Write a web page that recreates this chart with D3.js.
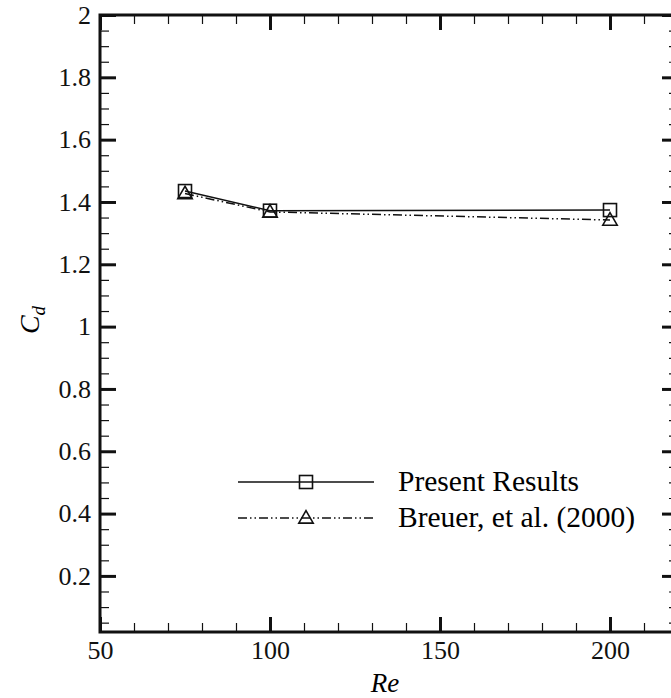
<!DOCTYPE html>
<html>
<head>
<meta charset="utf-8">
<script src="https://cdn.jsdelivr.net/npm/d3@7"></script>
</head>
<body style="margin:0; background:#fff">
<svg width="671" height="698" font-family="Liberation Serif"></svg>
<script>
// data
let reValues = [75, 100, 200];
let presentCd = [1.435, 1.372, 1.374];
let breuerCd = [1.427, 1.368, 1.342];

let xMajor = [50, 100, 150, 200];
let yMajor = [0.2, 0.4, 0.6, 0.8, 1, 1.2, 1.4, 1.6, 1.8, 2];
let legendNames = ["Present Results", "Breuer, et al. (2000)"];

let serif = "Liberation Serif";

let svg = d3.select('svg');
let margin = { left: 100, top: 15, right: 678, bottom: 632 };

let xScale = d3.scaleLinear().domain([50, 220]).range([margin.left, margin.right]);
let yScale = d3.scaleLinear().domain([0.02, 2]).range([margin.bottom, margin.top]);

let xMinor = d3.range(50, 221, 10).filter(v => v % 50 != 0);
let yMinor = d3.range(0.05, 2.0, 0.05).filter(v => Math.abs(v / 0.2 - Math.round(v / 0.2)) > 0.01);

let g = svg.append('g');

// ticks, all pointing inside the box
function addAxis(axis, transform, size, values, labels, major) {
    let a = g.append('g')
        .attr('transform', transform)
        .call(axis.tickValues(values).tickSize(size).tickPadding(9)
            .tickFormat(labels ? (d => d3.format('~g')(d)) : ''));
    a.attr('font-family', serif).attr('font-size', 26);
    a.select('.domain').remove();
    a.selectAll('.tick line').attr('stroke', '#111').attr('stroke-width', major ? 3 : 1.2);
    a.selectAll('.tick text')
        .attr('font-family', serif)
        .attr('font-size', 26)
        .attr('fill', '#111');
    return a;
}

addAxis(d3.axisBottom(xScale), 'translate(0,' + margin.bottom + ')', -15, xMajor, true, true);
addAxis(d3.axisBottom(xScale), 'translate(0,' + margin.bottom + ')', -9, xMinor, false, false);
addAxis(d3.axisTop(xScale), 'translate(0,' + margin.top + ')', -15, xMajor, false, true);
addAxis(d3.axisTop(xScale), 'translate(0,' + margin.top + ')', -9, xMinor, false, false);
addAxis(d3.axisLeft(yScale), 'translate(' + margin.left + ',0)', -16, yMajor, true, true);
addAxis(d3.axisLeft(yScale), 'translate(' + margin.left + ',0)', -9, yMinor, false, false);
addAxis(d3.axisRight(yScale), 'translate(' + margin.right + ',0)', -16, yMajor, false, true);
addAxis(d3.axisRight(yScale), 'translate(' + margin.right + ',0)', -9, yMinor, false, false);

// frame
g.append('rect')
    .attr('x', margin.left).attr('y', margin.top)
    .attr('width', margin.right - margin.left).attr('height', margin.bottom - margin.top)
    .attr('fill', 'none').attr('stroke', '#111').attr('stroke-width', 3);

// axis titles
g.append('text')
    .attr('x', 385).attr('y', 692)
    .attr('text-anchor', 'middle')
    .attr('font-family', serif)
    .attr('font-size', 27).attr('font-style', 'italic')
    .text('Re');

let yl = g.append('text')
    .attr('transform', 'translate(39,320) rotate(-90)')
    .attr('text-anchor', 'middle')
    .attr('font-family', serif)
    .attr('font-size', 28).attr('font-style', 'italic');
yl.append('tspan').text('C');
yl.append('tspan').attr('dy', 6).attr('font-size', 19).text('d');

// series
let dashBreuer = '9,3,1.5,3,1.5,3';
let line = d3.line().x(d => xScale(d[0])).y(d => yScale(d[1]));
let present = reValues.map((r, i) => [r, presentCd[i]]);
let breuer = reValues.map((r, i) => [r, breuerCd[i]]);

g.append('path').datum(breuer).attr('d', line)
    .attr('fill', 'none').attr('stroke', '#111').attr('stroke-width', 1.5)
    .attr('stroke-dasharray', dashBreuer);
g.append('path').datum(present).attr('d', line)
    .attr('fill', 'none').attr('stroke', '#111').attr('stroke-width', 1.5);

let tri = d3.symbol().type(d3.symbolTriangle).size(90);

function square(sel, x, y) {
    sel.append('rect')
        .attr('x', x - 6.5).attr('y', y - 6.5).attr('width', 13).attr('height', 13)
        .attr('fill', 'none').attr('stroke', '#111').attr('stroke-width', 1.6);
}
function triangle(sel, x, y) {
    sel.append('path').attr('d', tri)
        .attr('transform', 'translate(' + x + ',' + (y + 1) + ')')
        .attr('fill', 'none').attr('stroke', '#111').attr('stroke-width', 1.6);
}

present.forEach(d => square(g, xScale(d[0]), yScale(d[1])));
breuer.forEach(d => triangle(g, xScale(d[0]), yScale(d[1])));

// legend
let lg = g.append('g');
let legY = [482, 518];
lg.append('line').attr('x1', 238).attr('x2', 374).attr('y1', legY[0]).attr('y2', legY[0])
    .attr('stroke', '#111').attr('stroke-width', 1.5);
square(lg, 306, legY[0]);
lg.append('line').attr('x1', 238).attr('x2', 374).attr('y1', legY[1]).attr('y2', legY[1])
    .attr('stroke', '#111').attr('stroke-width', 1.5).attr('stroke-dasharray', dashBreuer);
triangle(lg, 306, legY[1]);
legendNames.forEach((n, i) => {
    lg.append('text')
        .attr('x', 398).attr('y', legY[i] + 9)
        .attr('font-family', serif)
        .attr('font-size', 29.5)
        .text(n);
});
</script>
</body>
</html>
